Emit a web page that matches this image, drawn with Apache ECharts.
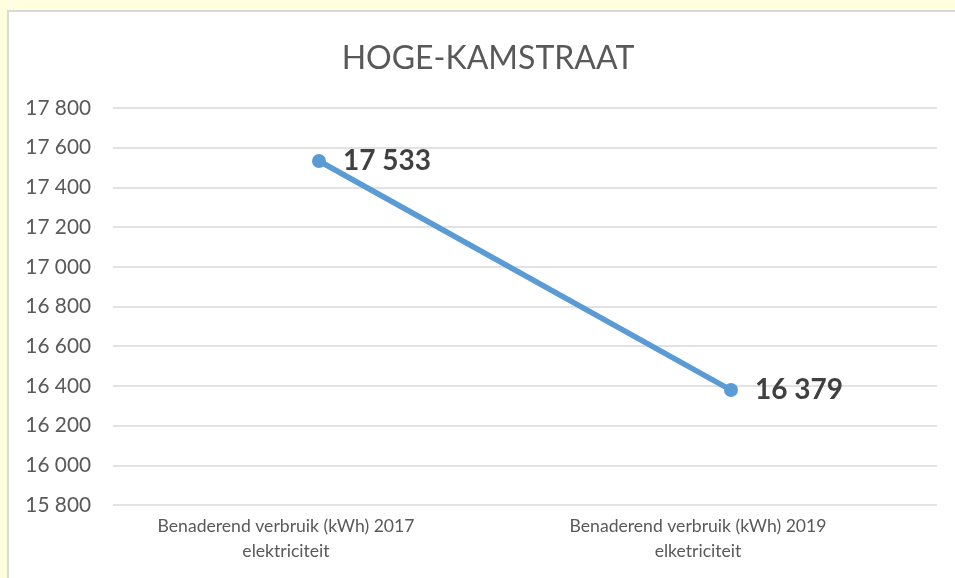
<!DOCTYPE html>
<html>
<head>
<meta charset="utf-8">
<script src="https://cdn.jsdelivr.net/npm/echarts@6/dist/echarts.min.js"></script>
<style>
  html, body { margin: 0; padding: 0; background: #FFFFE0; overflow: hidden; width: 955px; height: 578px; }
  #chart { position: absolute; left: 7px; top: 10px; width: 950px; height: 580px; background: #fff; border: 2px solid #D9D9D9; }
</style>
</head>
<body>
<div id="chart"></div>
<script>
var titleText = 'HOGE-KAMSTRAAT';
var categories = ['Benaderend verbruik (kWh) 2017\nelektriciteit', 'Benaderend verbruik (kWh) 2019\nelketriciteit'];
var values = [17533, 16379];
var yMin = 15800, yMax = 17800, yStep = 200;

function fmt(v) {
    return String(v).replace(/\B(?=(\d{3})+(?!\d))/g, ' ');
}

var chart = echarts.init(document.getElementById('chart'));
chart.setOption({
    animation: false,
    title: {
        text: titleText,
        left: 474,
        textAlign: 'center',
        top: 26,
        textStyle: { fontFamily: 'Lato', fontSize: 32, fontWeight: 'normal', color: '#595959' }
    },
    grid: { left: 104, right: 22, top: 96, bottom: 87 },
    xAxis: {
        type: 'category',
        data: categories,
        axisLine: { show: false },
        axisTick: { show: false },
        axisLabel: {
            interval: 0, margin: 9, lineHeight: 25, padding: [0, 66, 0, 0],
            fontFamily: 'Lato', fontSize: 17.6, color: '#595959'
        }
    },
    yAxis: {
        type: 'value',
        min: yMin, max: yMax, interval: yStep,
        axisLabel: { formatter: fmt, margin: 22, fontFamily: 'Lato', fontSize: 20.8, color: '#595959' },
        splitLine: { lineStyle: { color: '#D9D9D9', width: 1.5 } }
    },
    series: [{
        type: 'line',
        data: values,
        symbol: 'circle',
        symbolSize: 14,
        itemStyle: { color: '#5B9BD5' },
        lineStyle: { color: '#5B9BD5', width: 5.5 },
        label: {
            show: true, position: 'right', distance: 17,
            formatter: function (p) { return fmt(p.value); },
            fontFamily: 'Lato', fontSize: 28, fontWeight: 'bold', color: '#404040'
        }
    }]
});
</script>
</body>
</html>
